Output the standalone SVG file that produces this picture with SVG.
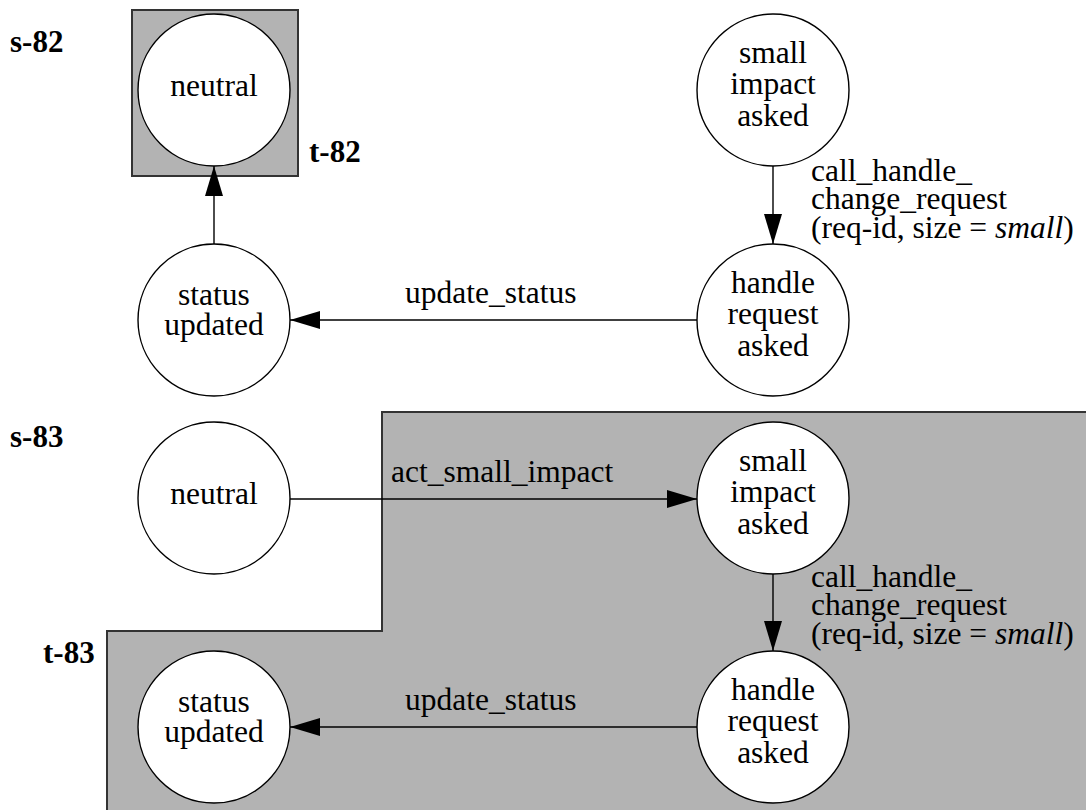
<svg xmlns="http://www.w3.org/2000/svg" width="1086" height="810" viewBox="0 0 1086 810">
<defs>
<style>
.n{fill:#fff;stroke:#000;stroke-width:1.4}
.t{font-family:"Liberation Serif","Times New Roman",serif;font-size:31.5px;fill:#000}
.c{text-anchor:middle}
.b{font-family:"Liberation Serif","Times New Roman",serif;font-size:31px;font-weight:bold;fill:#000}
.e{stroke:#000;stroke-width:1.4;fill:none;marker-end:url(#ah)}
.g{fill:#b3b3b3;stroke:#333;stroke-width:2}
</style>
<marker id="ah" markerUnits="userSpaceOnUse" markerWidth="30" markerHeight="18" refX="30" refY="9" orient="auto">
<path d="M0,0 L30,9 L0,18 z" fill="#000"/>
</marker>
</defs>
<rect width="1086" height="810" fill="#fff"/>
<g id="regions">
<rect class="g" x="132" y="10" width="166" height="166"/>
<path class="g" d="M382,412 L1092,412 L1092,816 L107,816 L107,631 L382,631 Z"/>
</g>
<g id="labels">
<text class="b" x="10" y="52">s-82</text>
<text class="b" x="309" y="162">t-82</text>
<text class="b" x="10" y="447">s-83</text>
<text class="b" x="43" y="663">t-83</text>
</g>
<g id="connectors">
<line class="e" x1="214" y1="244" x2="214" y2="166"/>
<line class="e" x1="773" y1="166" x2="773" y2="244"/>
<line class="e" x1="697" y1="320" x2="290" y2="320"/>
<line class="e" x1="290" y1="499" x2="697" y2="499"/>
<line class="e" x1="773" y1="574" x2="773" y2="651"/>
<line class="e" x1="697" y1="727" x2="290" y2="727"/>
<text class="t" x="405" y="303">update_status</text>
<text class="t" x="811" y="181">call_handle_</text>
<text class="t" x="811" y="209">change_request</text>
<text class="t" x="811" y="238">(req-id, size = <tspan font-style="italic">small</tspan>)</text>
<text class="t" x="391" y="482">act_small_impact</text>
<text class="t" x="405" y="710">update_status</text>
<text class="t" x="811" y="587">call_handle_</text>
<text class="t" x="811" y="615">change_request</text>
<text class="t" x="811" y="644">(req-id, size = <tspan font-style="italic">small</tspan>)</text>
</g>
<g id="s82-neutral">
<circle class="n" cx="214" cy="90" r="76"/>
<text class="t c" x="214" y="96">neutral</text>
</g>
<g id="s82-status-updated">
<circle class="n" cx="214" cy="320" r="76"/>
<text class="t c" x="214" y="305">status</text>
<text class="t c" x="214" y="335">updated</text>
</g>
<g id="s82-small-impact-asked">
<circle class="n" cx="773" cy="90" r="76"/>
<text class="t c" x="773" y="63">small</text>
<text class="t c" x="773" y="94">impact</text>
<text class="t c" x="773" y="126">asked</text>
</g>
<g id="s82-handle-request-asked">
<circle class="n" cx="773" cy="320" r="76"/>
<text class="t c" x="773" y="293">handle</text>
<text class="t c" x="773" y="324">request</text>
<text class="t c" x="773" y="356">asked</text>
</g>
<g id="s83-neutral">
<circle class="n" cx="214" cy="498" r="76"/>
<text class="t c" x="214" y="504">neutral</text>
</g>
<g id="s83-status-updated">
<circle class="n" cx="214" cy="727" r="76"/>
<text class="t c" x="214" y="712">status</text>
<text class="t c" x="214" y="742">updated</text>
</g>
<g id="s83-small-impact-asked">
<circle class="n" cx="773" cy="498" r="76"/>
<text class="t c" x="773" y="471">small</text>
<text class="t c" x="773" y="502">impact</text>
<text class="t c" x="773" y="534">asked</text>
</g>
<g id="s83-handle-request-asked">
<circle class="n" cx="773" cy="727" r="76"/>
<text class="t c" x="773" y="700">handle</text>
<text class="t c" x="773" y="731">request</text>
<text class="t c" x="773" y="763">asked</text>
</g>
</svg>
